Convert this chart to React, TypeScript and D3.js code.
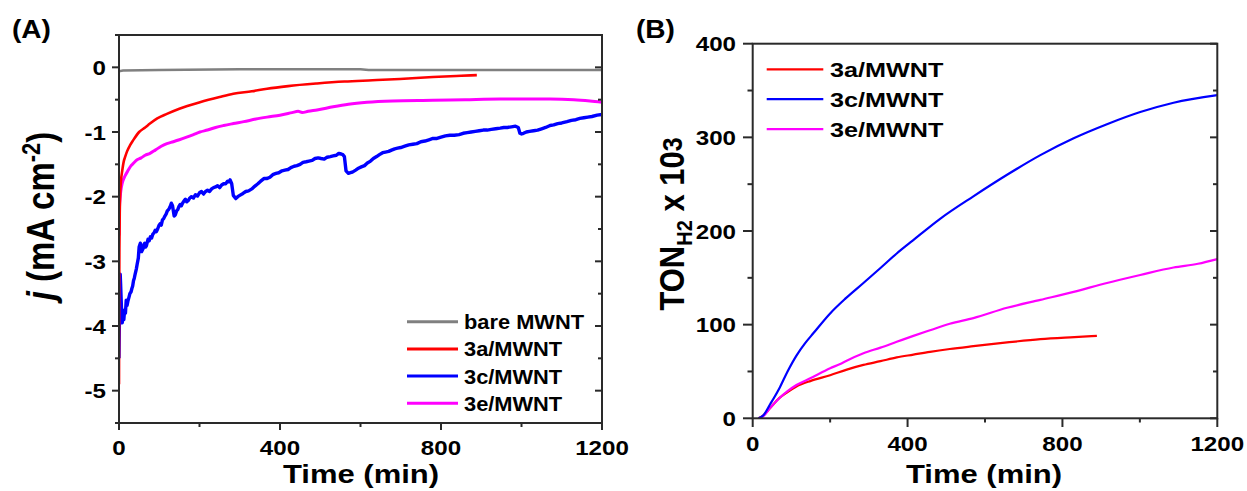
import React from "react";
import * as d3 from "d3";

// ---------- Panel A data: current density j (mA cm^-2) vs time (min) ----------
const bareA: [number, number][] = [
  [0, -0.06], [10, -0.05], [100, -0.04], [300, -0.03], [600, -0.03], [620, -0.04], [800, -0.04], [1000, -0.04], [1200, -0.04],
];
const red3aA: [number, number][] = [
  [0, -4.9], [0.5, -3.5], [1, -2.8], [2, -2.2], [3, -1.95], [5, -1.75], [8, -1.6], [12, -1.45], [15, -1.39], [20, -1.3],
  [28, -1.2], [35, -1.13], [50, -1.0], [65, -0.93], [77, -0.87], [95, -0.79], [119, -0.72], [150, -0.64], [201, -0.54],
  [250, -0.46], [284, -0.41], [330, -0.37], [368, -0.33], [420, -0.29], [492, -0.25], [560, -0.22], [630, -0.2],
  [698, -0.18], [780, -0.15], [850, -0.13], [889, -0.12],
];
const blue3cA: [number, number][] = [
  [0, -4.5], [1, -3.9], [2, -3.5], [3, -3.2], [4, -3.35], [6, -3.7], [8, -3.95], [10, -3.85], [12, -3.9], [14, -3.75],
  [16, -3.8], [18, -3.6], [20, -3.68], [22, -3.62], [25, -3.55], [27, -3.5], [30, -3.47], [32, -3.42], [34, -3.38],
  [36, -3.3], [38, -3.26], [40, -3.2], [43, -3.12], [45, -3.05], [48, -2.95], [50, -2.78], [53, -2.72], [55, -2.8],
  [56, -2.85], [60, -2.8], [62, -2.74], [64, -2.72], [66, -2.78], [68, -2.76], [72, -2.66], [75, -2.68], [78, -2.62],
  [81, -2.64], [84, -2.58], [87, -2.56], [90, -2.52], [93, -2.54], [96, -2.5], [99, -2.45], [102, -2.42], [105, -2.44],
  [108, -2.36], [111, -2.34], [114, -2.3], [117, -2.27], [120, -2.22], [123, -2.2], [125, -2.18], [128, -2.14],
  [130, -2.1], [133, -2.14], [137, -2.3], [140, -2.28], [143, -2.22], [146, -2.2], [149, -2.15], [152, -2.12],
  [155, -2.14], [158, -2.1], [162, -2.06], [165, -2.04], [168, -2.08], [172, -2.06], [176, -2.02], [180, -2.0],
  [185, -2.02], [190, -1.97], [195, -1.99], [200, -1.94], [205, -1.92], [210, -1.96], [215, -1.92], [220, -1.9],
  [225, -1.92], [230, -1.88], [235, -1.86], [240, -1.85], [245, -1.83], [250, -1.86], [255, -1.82], [260, -1.8],
  [265, -1.8], [270, -1.76], [273, -1.77], [276, -1.74], [280, -1.8], [284, -1.98], [290, -2.03], [295, -2.0],
  [300, -1.98], [308, -1.95], [315, -1.92], [322, -1.91], [330, -1.88], [337, -1.84], [345, -1.8], [352, -1.76],
  [360, -1.72], [367, -1.72], [375, -1.7], [382, -1.66], [390, -1.64], [397, -1.63], [405, -1.6], [412, -1.59],
  [420, -1.58], [427, -1.55], [435, -1.53], [442, -1.52], [450, -1.5], [457, -1.47], [465, -1.46], [472, -1.45],
  [480, -1.44], [487, -1.41], [495, -1.4], [502, -1.41], [510, -1.42], [517, -1.39], [525, -1.38], [532, -1.37],
  [540, -1.36], [546, -1.33], [552, -1.34], [556, -1.35], [560, -1.38], [564, -1.6], [570, -1.64], [575, -1.63],
  [580, -1.62], [588, -1.59], [595, -1.56], [602, -1.54], [610, -1.52], [617, -1.48], [625, -1.45], [632, -1.41],
  [640, -1.38], [647, -1.35], [655, -1.32], [662, -1.31], [670, -1.3], [677, -1.28], [685, -1.26], [692, -1.25],
  [700, -1.24], [710, -1.22], [720, -1.2], [730, -1.19], [740, -1.18], [750, -1.15], [760, -1.14], [770, -1.12],
  [780, -1.1], [790, -1.1], [800, -1.08], [811, -1.06], [822, -1.05], [833, -1.05], [845, -1.04], [855, -1.02],
  [865, -1.01], [875, -1.0], [885, -0.99], [895, -0.98], [905, -0.97], [915, -0.97], [925, -0.96], [936, -0.95],
  [947, -0.94], [956, -0.93], [965, -0.93], [975, -0.92], [985, -0.91], [992, -0.93], [996, -1.02], [1000, -1.03],
  [1005, -1.02], [1012, -1.0], [1020, -0.99], [1030, -0.98], [1040, -0.97], [1050, -0.95], [1060, -0.93],
  [1071, -0.9], [1080, -0.89], [1090, -0.87], [1100, -0.86], [1113, -0.84], [1124, -0.82], [1135, -0.81],
  [1145, -0.79], [1155, -0.78], [1165, -0.77], [1175, -0.76], [1188, -0.74], [1200, -0.73],
];
const mag3eA: [number, number][] = [
  [0, -2.6], [1, -2.2], [3, -2.0], [6, -1.85], [10, -1.75], [15, -1.68], [22, -1.6], [30, -1.52], [35, -1.49],
  [45, -1.43], [55, -1.4], [65, -1.36], [77, -1.33], [90, -1.28], [105, -1.22], [119, -1.18], [135, -1.15],
  [150, -1.12], [168, -1.08], [185, -1.04], [201, -1.0], [220, -0.97], [240, -0.93], [260, -0.9],
  [284, -0.87], [310, -0.84], [340, -0.8], [368, -0.77], [400, -0.74], [430, -0.7], [445, -0.68], [455, -0.7],
  [470, -0.68], [492, -0.66], [532, -0.61], [570, -0.57], [616, -0.54], [680, -0.52], [780, -0.51], [860, -0.5],
  [947, -0.49], [1071, -0.49], [1130, -0.5], [1170, -0.52], [1200, -0.54],
];

// ---------- Panel B data: TON_H2 x 10^3 vs time (min) ----------
const red3aB: [number, number][] = [
  [15, 0], [27, 3], [45, 11], [70, 22], [90, 28], [113, 34], [150, 40], [200, 46], [243, 52], [286, 57], [330, 61],
  [372, 65], [415, 68], [458, 71], [509, 74], [570, 77], [657, 81], [743, 84.5], [820, 86.5], [889, 88],
];
const blue3cB: [number, number][] = [
  [15, 0], [27, 3], [45, 15], [70, 33], [90, 50], [113, 67], [135, 80], [157, 91], [200, 112], [240, 128],
  [286, 144.5], [330, 160.5], [372, 176], [414, 190], [484, 213], [570, 237], [657, 260], [743, 281], [829, 299],
  [915, 314], [1001, 327], [1087, 337], [1200, 345],
];
const mag3eB: [number, number][] = [
  [15, 0], [27, 2], [45, 11], [70, 22], [90, 29], [113, 35.5], [150, 43], [200, 53.5], [226, 58], [240, 61],
  [286, 69.5], [330, 75.5], [372, 81.7], [415, 88], [458, 94], [509, 101], [570, 107], [657, 118], [743, 126.5],
  [829, 135], [915, 144.5], [1001, 153], [1087, 161], [1150, 165], [1200, 170],
];

// ---------- ticks & labels ----------
const timeTicks = [0, 400, 800, 1200];
const timeMinor = [200, 600, 1000];
const jTicks = [0, -1, -2, -3, -4, -5];
const jMinor = [0.5, -0.5, -1.5, -2.5, -3.5, -4.5, -5.5];
const tonTicks = [0, 100, 200, 300, 400];
const tonMinor = [50, 150, 250, 350];
const legendA = ["bare MWNT", "3a/MWNT", "3c/MWNT", "3e/MWNT"];
const legendB = ["3a/MWNT", "3c/MWNT", "3e/MWNT"];

const C = { gray: "#808080", red: "#ff0000", blue: "#0000ff", mag: "#ff00ff", axis: "#2a2a2a" };
const FONT = "'Liberation Sans', Arial, Helvetica, sans-serif";

type TP = {
  x: number; y: number; size: number; anchor?: "start" | "middle" | "end";
  sx?: number; rotate?: number; children: React.ReactNode;
};
function T({ x, y, size, anchor = "start", sx = 1.2, rotate = 0, children }: TP) {
  return (
    <text
      transform={`translate(${x},${y}) scale(${sx},1)${rotate ? ` rotate(${rotate})` : ""}`}
      fontSize={size}
      fontWeight="bold"
      fontFamily={FONT}
      textAnchor={anchor}
      fill="#000"
    >
      {children}
    </text>
  );
}

export default function App() {
  // Panel A scales
  const xA = d3.scaleLinear().domain([0, 1200]).range([119, 602]);
  const yA = d3.scaleLinear().domain([-5.5, 0.5]).range([423, 35]);
  // Panel B scales
  const xB = d3.scaleLinear().domain([0, 1200]).range([752.7, 1217.3]);
  const yB = d3.scaleLinear().domain([0, 400]).range([418.3, 43.7]);

  const lineA = d3.line<[number, number]>().x((d) => xA(d[0])).y((d) => yA(d[1]));
  const smoothA = d3.line<[number, number]>().x((d) => xA(d[0])).y((d) => yA(d[1])).curve(d3.curveMonotoneX);
  const lineB = d3.line<[number, number]>().x((d) => xB(d[0])).y((d) => yB(d[1])).curve(d3.curveMonotoneX);

  const axisW = 2;

  const frame = (x0: number, x1: number, y0: number, y1: number) => (
    <rect x={x0} y={y0} width={x1 - x0} height={y1 - y0} fill="none" stroke={C.axis} strokeWidth={axisW} />
  );

  return (
    <svg width={1247} height={491} style={{ position: "absolute", left: 0, top: 0, background: "#fff" }}>
      <defs>
        <clipPath id="clipA">
          <rect x={119} y={35} width={483} height={388} />
        </clipPath>
        <clipPath id="clipB">
          <rect x={752.7} y={43.7} width={464.6} height={374.6} />
        </clipPath>
      </defs>

      {/* ================= Panel A ================= */}
      <T x={12} y={38} size={26} sx={1.08}>(A)</T>
      <g clipPath="url(#clipA)">
        <path d={lineA(bareA) || ""} fill="none" stroke={C.gray} strokeWidth={2.5} />
        <path d={lineA(blue3cA) || ""} fill="none" stroke={C.blue} strokeWidth={3.4} strokeLinejoin="round" />
        <path d={smoothA(mag3eA) || ""} fill="none" stroke={C.mag} strokeWidth={3} strokeLinejoin="round" />
        <path d={smoothA(red3aA) || ""} fill="none" stroke={C.red} strokeWidth={2.6} strokeLinejoin="round" />
      </g>
      {frame(119, 602, 35, 423)}
      {jTicks.map((v) => (
        <g key={"ja" + v}>
          <line x1={112} x2={119} y1={yA(v)} y2={yA(v)} stroke={C.axis} strokeWidth={2} />
          <line x1={595} x2={602} y1={yA(v)} y2={yA(v)} stroke={C.axis} strokeWidth={2} />
          <T x={106} y={yA(v) + 7.5} size={21} anchor="end" sx={1.15}>{v === 0 ? "0" : `-${Math.abs(v)}`}</T>
        </g>
      ))}
      {jMinor.map((v) => (
        <g key={"jm" + v}>
          <line x1={115} x2={119} y1={yA(v)} y2={yA(v)} stroke={C.axis} strokeWidth={2} />
          <line x1={598} x2={602} y1={yA(v)} y2={yA(v)} stroke={C.axis} strokeWidth={2} />
        </g>
      ))}
      {timeTicks.map((v) => (
        <g key={"ta" + v}>
          <line x1={xA(v)} x2={xA(v)} y1={423} y2={430} stroke={C.axis} strokeWidth={2} />
          <T x={xA(v)} y={455} size={21} anchor="middle" sx={1.15}>{v}</T>
        </g>
      ))}
      {timeMinor.map((v) => (
        <line key={"tam" + v} x1={xA(v)} x2={xA(v)} y1={423} y2={427} stroke={C.axis} strokeWidth={2} />
      ))}
      <T x={361} y={483} size={25} anchor="middle" sx={1.24}>Time (min)</T>
      <T x={54} y={216} size={33} anchor="middle" sx={1.15} rotate={-90}>
        <tspan fontStyle="italic">j</tspan>
        <tspan> (mA cm</tspan>
        <tspan dy={-12} fontSize={22}>-2</tspan>
        <tspan dy={12}>)</tspan>
      </T>
      {legendA.map((name, i) => {
        const y = 321.7 + i * 27.2;
        const col = [C.gray, C.red, C.blue, C.mag][i];
        return (
          <g key={"la" + name}>
            <line x1={407} x2={458} y1={y} y2={y} stroke={col} strokeWidth={3} />
            <T x={464} y={y + 7.5} size={21} sx={1.04}>{name}</T>
          </g>
        );
      })}

      {/* ================= Panel B ================= */}
      <T x={636} y={38} size={26} sx={1.08}>(B)</T>
      <g clipPath="url(#clipB)">
        <path d={lineB(red3aB) || ""} fill="none" stroke={C.red} strokeWidth={2.2} />
        <path d={lineB(mag3eB) || ""} fill="none" stroke={C.mag} strokeWidth={2.2} />
        <path d={lineB(blue3cB) || ""} fill="none" stroke={C.blue} strokeWidth={2.2} />
      </g>
      {frame(752.7, 1217.3, 43.7, 418.3)}
      {tonTicks.map((v) => (
        <g key={"tb" + v}>
          <line x1={743} x2={752.7} y1={yB(v)} y2={yB(v)} stroke={C.axis} strokeWidth={2} />
          <line x1={1210} x2={1217.3} y1={yB(v)} y2={yB(v)} stroke={C.axis} strokeWidth={2} />
          <T x={736} y={yB(v) + 7.5} size={21} anchor="end" sx={1.15}>{v}</T>
        </g>
      ))}
      {tonMinor.map((v) => (
        <g key={"tbm" + v}>
          <line x1={747.5} x2={752.7} y1={yB(v)} y2={yB(v)} stroke={C.axis} strokeWidth={2} />
          <line x1={1213} x2={1217.3} y1={yB(v)} y2={yB(v)} stroke={C.axis} strokeWidth={2} />
        </g>
      ))}
      {timeTicks.map((v) => (
        <g key={"xb" + v}>
          <line x1={xB(v)} x2={xB(v)} y1={418.3} y2={427} stroke={C.axis} strokeWidth={2} />
          <T x={xB(v)} y={451} size={21} anchor="middle" sx={1.15}>{v}</T>
        </g>
      ))}
      {timeMinor.map((v) => (
        <line key={"xbm" + v} x1={xB(v)} x2={xB(v)} y1={418.3} y2={422.5} stroke={C.axis} strokeWidth={2} />
      ))}
      <T x={984} y={483} size={25} anchor="middle" sx={1.24}>Time (min)</T>
      <T x={684} y={224} size={31} anchor="middle" sx={1.12} rotate={-90}>
        <tspan>TON</tspan>
        <tspan dy={7} fontSize={20}>H2</tspan>
        <tspan dy={-7}> x 10</tspan>
        <tspan dy={-2} fontSize={25}>3</tspan>
      </T>
      {legendB.map((name, i) => {
        const y = 69.3 + i * 29.9;
        const col = [C.red, C.blue, C.mag][i];
        return (
          <g key={"lb" + name}>
            <line x1={766.7} x2={823.3} y1={y} y2={y} stroke={col} strokeWidth={2.2} />
            <T x={830} y={y + 7.5} size={21} sx={1.2}>{name}</T>
          </g>
        );
      })}
    </svg>
  );
}
